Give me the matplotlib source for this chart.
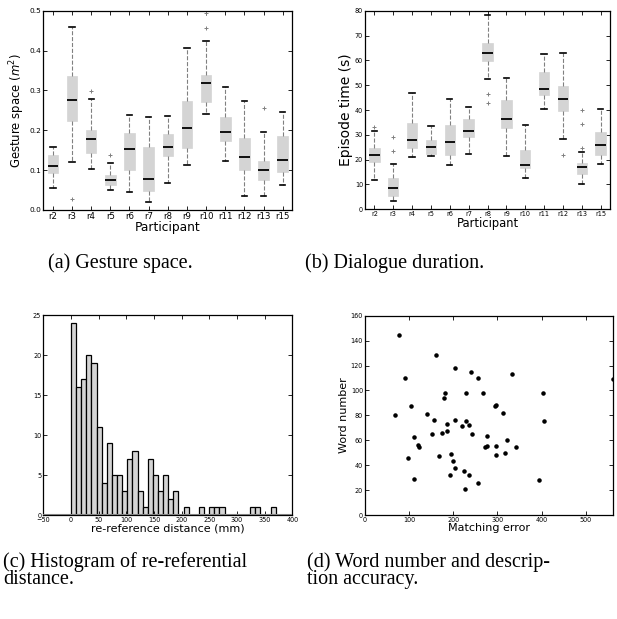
import matplotlib
matplotlib.use('Agg')
import matplotlib.pyplot as plt
import numpy as np

participants = ['r2', 'r3', 'r4', 'r5', 'r6', 'r7', 'r8', 'r9', 'r10', 'r11', 'r12', 'r13', 'r15']

# (a) gesture space box stats
gs_med = [0.111, 0.277, 0.177, 0.075, 0.153, 0.079, 0.159, 0.205, 0.319, 0.196, 0.134, 0.101, 0.125]
gs_q1 = [0.092, 0.224, 0.143, 0.063, 0.101, 0.048, 0.135, 0.155, 0.272, 0.172, 0.101, 0.075, 0.096]
gs_q3 = [0.137, 0.337, 0.201, 0.088, 0.194, 0.158, 0.191, 0.274, 0.339, 0.234, 0.181, 0.124, 0.186]
gs_lo = [0.055, 0.121, 0.104, 0.049, 0.044, 0.019, 0.067, 0.112, 0.242, 0.122, 0.034, 0.036, 0.063]
gs_hi = [0.158, 0.459, 0.279, 0.117, 0.238, 0.233, 0.235, 0.406, 0.425, 0.308, 0.273, 0.196, 0.247]
gs_fliers = [[], [0.027], [0.298], [0.137], [], [], [], [], [0.457, 0.493], [], [], [0.255], []]

# (b) episode time box stats
et_med = [21.7, 8.5, 27.8, 25.0, 27.0, 31.6, 62.8, 36.2, 18.0, 48.6, 44.3, 16.9, 25.8]
et_q1 = [18.9, 5.5, 24.8, 22.3, 21.7, 29.1, 59.7, 32.9, 16.5, 46.0, 39.6, 14.1, 22.0]
et_q3 = [24.6, 12.5, 34.6, 27.9, 33.8, 36.5, 67.1, 44.2, 23.8, 55.4, 49.5, 18.5, 31.0]
et_lo = [11.8, 3.2, 20.9, 21.3, 17.7, 22.1, 52.3, 21.3, 12.5, 40.3, 28.3, 10.3, 18.1]
et_hi = [31.7, 18.1, 46.8, 33.6, 44.4, 41.3, 78.1, 53.0, 34.1, 62.4, 62.8, 23.1, 40.5]
et_fliers = [[33.0], [23.5, 29.0], [], [], [], [], [46.3, 42.7], [], [], [], [22.0], [24.7, 34.4, 39.9], []]

# (c) histogram of re-reference distance (40 bins over 0..370 mm)
bin_edges = np.linspace(0, 370, 41)
hist_counts = [24, 16, 17, 20, 19, 11, 4, 9, 5, 5, 3, 7, 8, 3, 1, 7, 5, 3, 5, 2,
               3, 0, 1, 0, 0, 1, 0, 1, 1, 1, 0, 0, 0, 0, 0, 1, 1, 0, 0, 1]

# (d) matching error vs word number
match_err = [77.7, 160, 90.5, 203.6, 239.8, 255.7, 332.6, 561, 181.7, 178, 230, 267, 402.7,
             104.8, 295.6, 297, 313, 68.6, 140.3, 156, 204.4, 230, 405, 186.3, 236.8, 218.7,
             110.9, 174, 186.3, 150.8, 243.5, 276.7, 322.8, 119.8, 122.9, 271.5, 276, 297,
             342.4, 97.3, 166.7, 196, 297, 318, 198.6, 204.4, 192.3, 235.3, 224.7, 110.9,
             394.4, 256.4, 225.5]
word_num = [144.2, 128.2, 110.2, 118.3, 114.5, 110.2, 113.2, 109.2, 98.2, 94.2, 98.2, 98.2, 98.2,
            87.2, 87.2, 88.3, 82.1, 80, 81.1, 76.3, 76.3, 75.2, 75.2, 73, 72.2, 71.2,
            62.3, 66.1, 67.2, 65, 65, 63.1, 60.2, 56.2, 54.3, 54.3, 55.1, 55.1,
            54.3, 46, 47.1, 49, 48.2, 50, 43.1, 38, 32.1, 32.1, 35, 29.2,
            28.1, 26, 21.1]

plt.rcParams['font.family'] = 'DejaVu Sans'
box_color = '#d4d4d4'


def style_axes(ax, tick_size):
    ax.tick_params(direction='in', top=True, right=True, length=3, width=0.6,
                   labelsize=tick_size, pad=1.5)
    for s in ax.spines.values():
        s.set_linewidth(0.9)


def boxes(ax, med, q1, q3, lo, hi, fliers):
    stats = []
    for i in range(len(med)):
        stats.append({'med': med[i], 'q1': q1[i], 'q3': q3[i], 'whislo': lo[i],
                      'whishi': hi[i], 'fliers': fliers[i], 'label': participants[i]})
    ax.bxp(stats, widths=0.55, patch_artist=True,
           boxprops=dict(facecolor=box_color, edgecolor=box_color, linewidth=0.5),
           medianprops=dict(color='black', linewidth=1.3),
           whiskerprops=dict(color='#808080', linestyle='--', linewidth=0.8),
           capprops=dict(color='black', linewidth=1.2),
           flierprops=dict(marker='+', markeredgecolor='#808080', markersize=3, markeredgewidth=0.7),
           capwidths=0.28)
    ax.set_xlim(0.5, len(med) + 0.5)


fig = plt.figure(figsize=(6.17, 6.19), dpi=100)

# (a)
ax1 = fig.add_axes([43.3 / 617, 1 - 210 / 619, 249 / 617, 199.3 / 619])
boxes(ax1, gs_med, gs_q1, gs_q3, gs_lo, gs_hi, gs_fliers)
ax1.set_ylim(0, 0.5)
ax1.set_yticks([0.0, 0.1, 0.2, 0.3, 0.4, 0.5])
ax1.set_yticklabels(['0.0', '0.1', '0.2', '0.3', '0.4', '0.5'])
style_axes(ax1, 5.3)
ax1.tick_params(axis='x', labelsize=6.2)
ax1.set_xlabel('Participant', fontsize=8.8, labelpad=0)
ax1.set_ylabel('Gesture space ($m^2$)', fontsize=8.4, labelpad=2)

# (b)
ax2 = fig.add_axes([365 / 617, 1 - 209.3 / 619, 245 / 617, 198.6 / 619])
boxes(ax2, et_med, et_q1, et_q3, et_lo, et_hi, et_fliers)
ax2.set_ylim(0, 80)
ax2.set_yticks(range(0, 81, 10))
style_axes(ax2, 4.7)
ax2.set_xlabel('Participant', fontsize=8.3, labelpad=0)
ax2.set_ylabel('Episode time (s)', fontsize=10, labelpad=1)

# (c)
ax3 = fig.add_axes([43.3 / 617, 1 - 515 / 619, 249 / 617, 200 / 619])
ax3.bar(bin_edges[:-1], hist_counts, width=np.diff(bin_edges), align='edge',
        color=box_color, edgecolor='black', linewidth=0.9)
ax3.axhline(0, color='#808080', linewidth=1.5, zorder=3)
ax3.set_xlim(-50, 400)
ax3.set_ylim(0, 25)
ax3.set_xticks(range(-50, 401, 50))
ax3.set_yticks(range(0, 26, 5))
style_axes(ax3, 4.7)
ax3.set_xlabel('re-reference distance (mm)', fontsize=8, labelpad=0)

# (d)
ax4 = fig.add_axes([365 / 617, 1 - 515 / 619, 248 / 617, 199.3 / 619])
ax4.scatter(match_err, word_num, s=5, color='black', zorder=3)
ax4.set_xlim(0, 562)
ax4.set_ylim(0, 160)
ax4.set_xticks(range(0, 501, 100))
ax4.set_yticks(range(0, 161, 20))
style_axes(ax4, 4.7)
ax4.set_xlabel('Matching error', fontsize=8, labelpad=0)
ax4.set_ylabel('Word number', fontsize=8, labelpad=1)

# captions
cap = dict(family='Liberation Serif', fontsize=14.5, color='black')
fig.text(120 / 617, 1 - 263 / 619, '(a) Gesture space.', ha='center', va='center', **cap)
fig.text(395 / 617, 1 - 263 / 619, '(b) Dialogue duration.', ha='center', va='center', **cap)
fig.text(3 / 617, 1 - 552 / 619, '(c) Histogram of re-referential\ndistance.', ha='left', va='top',
         linespacing=0.88, **cap)
fig.text(307 / 617, 1 - 552 / 619, '(d) Word number and descrip-\ntion accuracy.', ha='left', va='top',
         linespacing=0.88, **cap)

fig.savefig('out.png', dpi=100)
